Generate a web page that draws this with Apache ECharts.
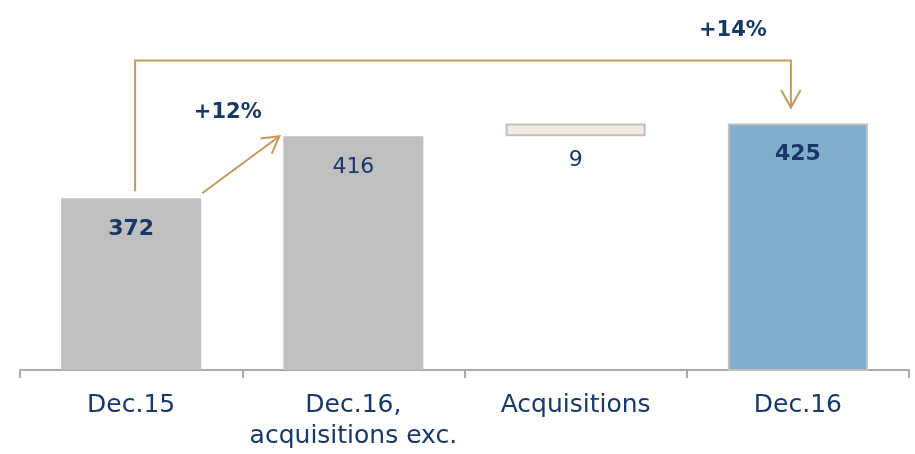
<!DOCTYPE html>
<html>
<head>
<meta charset="utf-8">
<script src="https://cdn.jsdelivr.net/npm/echarts@6/dist/echarts.min.js"></script>
<style>
  html, body { margin: 0; padding: 0; background: #fff; }
  #bridge-chart { width: 915px; height: 454px; }
</style>
</head>
<body>
<div id="bridge-chart"></div>
<script>
// waterfall data
var categories = ['Dec.15', 'Dec.16,\nacquisitions exc.', 'Acquisitions', 'Dec.16'];
var baseValues = [0, 0, 416, 0];
var barValues = [372, 416, 9, 425];
var growthLabels = ['+12%', '+14%'];

var navy = '#183868';
var gold = '#c39a5c';
var barWidth = 140;
var fontName = 'DejaVu Sans';

var barColors = ['#bfbfbf', '#bfbfbf', '#f2ebe0', '#7fadcb'];
var boldLabels = [true, false, false, true];

var dom = document.getElementById('bridge-chart');
var myChart = echarts.init(dom);

var barData = barValues.map(function (v, i) {
    var item = {
        value: v,
        itemStyle: { color: barColors[i] },
        label: {
            fontWeight: boldLabels[i] ? 'bold' : 'normal',
            position: 'insideTop',
            distance: 20
        }
    };
    if (i >= 2) {
        item.itemStyle.borderColor = '#bfbfbf';
        item.itemStyle.borderWidth = 2;
    }
    if (baseValues[i] > 0) {
        item.label.position = 'bottom';
        item.label.distance = 13;
    }
    return item;
});

var option = {
    animation: false,
    grid: { left: 20, right: 6, top: 18, bottom: 84 },
    xAxis: {
        type: 'category',
        data: categories,
        axisLine: { lineStyle: { color: '#a9aab8', width: 2 } },
        axisTick: { show: true, length: 8, lineStyle: { color: '#a9aab8', width: 2 } },
        axisLabel: {
            color: navy,
            fontFamily: fontName,
            fontSize: 25,
            lineHeight: 31,
            margin: 20,
            interval: 0
        }
    },
    yAxis: {
        type: 'value',
        min: 250,
        max: 500,
        show: false
    },
    series: [
        {
            name: 'base',
            type: 'bar',
            stack: 'bridge',
            barWidth: barWidth,
            itemStyle: { color: 'transparent' },
            data: baseValues
        },
        {
            name: 'value',
            type: 'bar',
            stack: 'bridge',
            barWidth: barWidth,
            label: {
                show: true,
                color: navy,
                fontFamily: fontName,
                fontSize: 22
            },
            data: barData
        }
    ]
};

myChart.setOption(option);

// arrows, placed from the data positions
function px(i, v) {
    return myChart.convertToPixel({ gridIndex: 0 }, [i, v]);
}
function arrowHead(tip, from, len, ang) {
    var dx = from[0] - tip[0], dy = from[1] - tip[1];
    var d = Math.sqrt(dx * dx + dy * dy);
    dx /= d; dy /= d;
    var a = ang * Math.PI / 180;
    var w1 = [tip[0] + len * (dx * Math.cos(a) - dy * Math.sin(a)), tip[1] + len * (dx * Math.sin(a) + dy * Math.cos(a))];
    var w2 = [tip[0] + len * (dx * Math.cos(-a) - dy * Math.sin(-a)), tip[1] + len * (dx * Math.sin(-a) + dy * Math.cos(-a))];
    return [w1, tip, w2];
}

var top0 = px(0, barValues[0]);
var top1 = px(1, barValues[1]);
var top3 = px(3, barValues[3]);
var half = barWidth / 2;

var diagFrom = [top0[0] + half + 1, top0[1] - 5];
var diagTo = [top1[0] - half - 4, top1[1]];

var bracketY = top3[1] - 63;
var bracket = [
    [top0[0] + 4, top0[1] - 7],
    [top0[0] + 4, bracketY],
    [top3[0] - 7, bracketY],
    [top3[0] - 7, top3[1] - 16]
];

var lineStyle = { stroke: gold, lineWidth: 2, fill: null };
var textStyle = { fill: navy, font: 'bold 21px "' + fontName + '"', align: 'center', verticalAlign: 'middle' };

myChart.setOption({
    graphic: [
        { type: 'polyline', shape: { points: [diagFrom, diagTo] }, style: lineStyle },
        { type: 'polyline', shape: { points: arrowHead(diagTo, diagFrom, 19, 30) }, style: lineStyle },
        { type: 'polyline', shape: { points: bracket }, style: lineStyle },
        { type: 'polyline', shape: { points: arrowHead(bracket[3], bracket[2], 20, 29) }, style: lineStyle },
        {
            type: 'text',
            x: (diagFrom[0] + diagTo[0]) / 2 - 13,
            y: (diagFrom[1] + diagTo[1]) / 2 - 52,
            style: Object.assign({ text: growthLabels[0] }, textStyle)
        },
        {
            type: 'text',
            x: bracket[2][0] - 58,
            y: bracketY - 30,
            style: Object.assign({ text: growthLabels[1] }, textStyle)
        }
    ]
});
</script>
</body>
</html>
